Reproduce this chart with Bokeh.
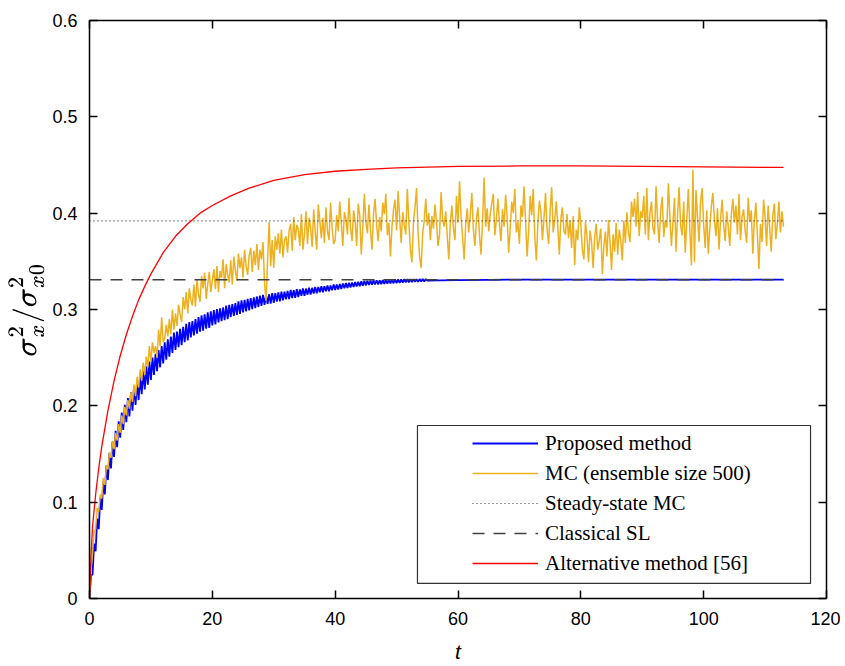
import numpy as np
from bokeh.plotting import figure
from bokeh.models import (Range1d, FixedTicker, LinearAxis, Legend, LegendItem,
                          BoxAnnotation, CustomJSTickFormatter)
from bokeh.embed import file_html
from bokeh.resources import INLINE

# ---------------- data ----------------
x_ticks = [0, 20, 40, 60, 80, 100, 120]
y_ticks = [0, 0.1, 0.2, 0.3, 0.4, 0.5, 0.6]
y_tick_labels = ["0", "0.1", "0.2", "0.3", "0.4", "0.5", "0.6"]

series_names = ["Proposed method", "MC (ensemble size 500)", "Steady-state MC",
                "Classical SL", "Alternative method [56]"]

sample_step = 0.25   # time step of the sampled series
t_end = 113.0

# Proposed method: oscillating part (t = 0 .. 55, every 0.25)
proposed_osc = [
    0.000, 0.024, 0.025, 0.057,
    0.049, 0.083, 0.072, 0.104,
    0.092, 0.122, 0.108, 0.138,
    0.123, 0.151, 0.135, 0.163,
    0.147, 0.174, 0.157, 0.184,
    0.167, 0.193, 0.175, 0.201,
    0.183, 0.208, 0.189, 0.214,
    0.195, 0.220, 0.201, 0.225,
    0.206, 0.231, 0.212, 0.236,
    0.217, 0.241, 0.222, 0.246,
    0.227, 0.250, 0.232, 0.254,
    0.236, 0.258, 0.240, 0.262,
    0.244, 0.266, 0.248, 0.269,
    0.251, 0.272, 0.255, 0.276,
    0.258, 0.277, 0.261, 0.280,
    0.263, 0.282, 0.266, 0.285,
    0.268, 0.287, 0.271, 0.288,
    0.273, 0.290, 0.275, 0.292,
    0.277, 0.294, 0.278, 0.295,
    0.280, 0.297, 0.281, 0.298,
    0.2835, 0.2995, 0.2846, 0.3004,
    0.2867, 0.3012, 0.2879, 0.3021,
    0.2890, 0.3040, 0.2901, 0.3049,
    0.2922, 0.3057, 0.2933, 0.3066,
    0.2944, 0.3085, 0.2955, 0.3094,
    0.2970, 0.3100, 0.2980, 0.3110,
    0.2992, 0.3118, 0.3003, 0.3126,
    0.3015, 0.3135, 0.3026, 0.3143,
    0.3037, 0.3152, 0.3048, 0.3151,
    0.3059, 0.3160, 0.3060, 0.3170,
    0.3070, 0.3169, 0.3082, 0.3177,
    0.3084, 0.3186, 0.3095, 0.3184,
    0.3106, 0.3193, 0.3108, 0.3202,
    0.3119, 0.3201, 0.3120, 0.3210,
    0.3130, 0.3209, 0.3142, 0.3218,
    0.3143, 0.3217, 0.3154, 0.3226,
    0.3155, 0.3225, 0.3166, 0.3234,
    0.3167, 0.3233, 0.3178, 0.3242,
    0.3179, 0.3241, 0.3190, 0.3250,
    0.3190, 0.3250, 0.3201, 0.3259,
    0.3202, 0.3260, 0.3207, 0.3265,
    0.3213, 0.3270, 0.3220, 0.3274,
    0.3224, 0.3278, 0.3229, 0.3281,
    0.3233, 0.3285, 0.3238, 0.3288,
    0.3242, 0.3292, 0.3247, 0.3295,
    0.3251, 0.3299, 0.3255, 0.3300,
    0.3257, 0.3302, 0.3260, 0.3303,
    0.3261, 0.3304, 0.3263, 0.3305,
    0.3266, 0.3307, 0.3268, 0.3309,
    0.3270, 0.3311, 0.3272, 0.3313,
    0.3274, 0.3313, 0.3277, 0.3314,
    0.3279, 0.3315, 0.3281, 0.3315,
    0.3282, 0.3316, 0.3284, 0.3316,
    0.3286, 0.3316, 0.3287, 0.3316,
    0.3289, 0.3316, 0.3290, 0.3316,
    0.3301,
]
# Proposed method: settled part
proposed_tail_t = [57, 60, 65, 70, 80, 90, 100, 113]
proposed_tail_v = [0.3303, 0.3305, 0.3308, 0.3310, 0.3311, 0.3311, 0.3311, 0.3311]

# Monte Carlo (ensemble size 500), t = 0 .. 113, every 0.25
mc_values = [
    0.000, 0.032, 0.048, 0.070,
    0.072, 0.094, 0.090, 0.108,
    0.104, 0.125, 0.118, 0.138,
    0.134, 0.152, 0.146, 0.163,
    0.155, 0.172, 0.164, 0.181,
    0.172, 0.190, 0.181, 0.199,
    0.190, 0.206, 0.197, 0.214,
    0.204, 0.222, 0.210, 0.230,
    0.219, 0.238, 0.226, 0.245,
    0.232, 0.251, 0.240, 0.262,
    0.246, 0.266, 0.255, 0.262,
    0.250, 0.279, 0.262, 0.292,
    0.266, 0.270, 0.284, 0.272,
    0.290, 0.274, 0.300, 0.279,
    0.296, 0.283, 0.305, 0.295,
    0.287, 0.313, 0.300, 0.318,
    0.296, 0.322, 0.310, 0.304,
    0.326, 0.303, 0.331, 0.316,
    0.308, 0.335, 0.322, 0.338,
    0.311, 0.326, 0.339, 0.318,
    0.330, 0.342, 0.321, 0.345,
    0.318, 0.340, 0.333, 0.352,
    0.322, 0.347, 0.336, 0.328,
    0.351, 0.326, 0.355, 0.340,
    0.330, 0.358, 0.343, 0.354,
    0.333, 0.362, 0.345, 0.336,
    0.356, 0.364, 0.339, 0.361,
    0.346, 0.368, 0.341, 0.362,
    0.352, 0.370, 0.327, 0.309,
    0.352, 0.391, 0.345, 0.372,
    0.343, 0.376, 0.362, 0.379,
    0.358, 0.383, 0.354, 0.372,
    0.376, 0.359, 0.382, 0.389,
    0.361, 0.396, 0.372, 0.388,
    0.383, 0.366, 0.399, 0.362,
    0.378, 0.402, 0.368, 0.395,
    0.385, 0.365, 0.404, 0.380,
    0.362, 0.409, 0.392, 0.374,
    0.395, 0.369, 0.406, 0.381,
    0.372, 0.411, 0.386, 0.368,
    0.372, 0.398, 0.381, 0.412,
    0.389, 0.366, 0.401, 0.394,
    0.378, 0.416, 0.385, 0.371,
    0.403, 0.392, 0.366, 0.410,
    0.398, 0.357, 0.384, 0.420,
    0.391, 0.379, 0.409, 0.383,
    0.362, 0.400, 0.415, 0.388,
    0.371, 0.396, 0.381, 0.411,
    0.399, 0.420, 0.377, 0.390,
    0.355, 0.386, 0.404, 0.414,
    0.382, 0.423, 0.395, 0.369,
    0.401, 0.388, 0.378, 0.425,
    0.390, 0.362, 0.349, 0.391,
    0.406, 0.426, 0.380, 0.355,
    0.343, 0.379, 0.392, 0.415,
    0.387, 0.400, 0.372, 0.397,
    0.384, 0.409, 0.391, 0.366,
    0.378, 0.422, 0.394, 0.386,
    0.402, 0.376, 0.352, 0.389,
    0.408, 0.385, 0.372, 0.418,
    0.390, 0.433, 0.395, 0.375,
    0.352, 0.388, 0.405, 0.380,
    0.399, 0.421, 0.383, 0.366,
    0.394, 0.406, 0.377, 0.357,
    0.392, 0.437, 0.386, 0.405,
    0.381, 0.399, 0.410, 0.420,
    0.377, 0.394, 0.415, 0.389,
    0.371, 0.404, 0.386, 0.419,
    0.396, 0.359, 0.384, 0.412,
    0.400, 0.425, 0.380, 0.391,
    0.368, 0.408, 0.396, 0.428,
    0.393, 0.355, 0.381, 0.418,
    0.398, 0.425, 0.376, 0.351,
    0.389, 0.413, 0.401, 0.372,
    0.395, 0.421, 0.383, 0.368,
    0.402, 0.427, 0.380, 0.393,
    0.412, 0.386, 0.357, 0.395,
    0.406, 0.381, 0.378, 0.399,
    0.374, 0.392, 0.364, 0.397,
    0.346, 0.383, 0.372, 0.406,
    0.388, 0.362, 0.352, 0.391,
    0.376, 0.349, 0.382, 0.370,
    0.343, 0.375, 0.389, 0.362,
    0.372, 0.384, 0.337, 0.366,
    0.381, 0.355, 0.393, 0.370,
    0.341, 0.378, 0.360, 0.390,
    0.357, 0.383, 0.372, 0.351,
    0.392, 0.369, 0.401, 0.380,
    0.370, 0.412, 0.396, 0.415,
    0.386, 0.422, 0.376, 0.402,
    0.395, 0.418, 0.378, 0.426,
    0.372, 0.400, 0.412, 0.384,
    0.378, 0.428, 0.391, 0.369,
    0.403, 0.417, 0.375, 0.392,
    0.385, 0.431, 0.396, 0.366,
    0.391, 0.416, 0.360, 0.398,
    0.427, 0.387, 0.377, 0.412,
    0.359, 0.392, 0.425, 0.383,
    0.346, 0.445, 0.349, 0.424,
    0.396, 0.370, 0.412, 0.426,
    0.388, 0.364, 0.403, 0.358,
    0.384, 0.407, 0.421, 0.393,
    0.376, 0.405, 0.362, 0.394,
    0.414, 0.388, 0.371, 0.402,
    0.386, 0.366, 0.398, 0.415,
    0.390, 0.408, 0.378, 0.420,
    0.372, 0.396, 0.404, 0.382,
    0.369, 0.416, 0.391, 0.403,
    0.358, 0.392, 0.411, 0.377,
    0.342, 0.389, 0.370, 0.414,
    0.396, 0.366, 0.408, 0.385,
    0.360, 0.397, 0.410, 0.373,
    0.389, 0.412, 0.380, 0.402,
    0.386,
]

steady_state_mc = 0.392
classical_sl = 0.331

# Alternative method [56]
alt_t = [0, 0.25, 0.5, 1, 1.5, 2, 3, 4, 5, 6, 7, 8, 9, 10, 12, 14, 16, 18, 20,
         23, 26, 30, 35, 40, 45, 50, 60, 70, 80, 90, 100, 113]
alt_v = [0, 0.045, 0.075, 0.108, 0.135, 0.158, 0.195, 0.226, 0.252, 0.274, 0.293,
         0.310, 0.324, 0.337, 0.359, 0.376, 0.389, 0.400, 0.408, 0.418, 0.426,
         0.434, 0.440, 0.4435, 0.4455, 0.447, 0.4485, 0.449, 0.449, 0.4485, 0.448,
         0.4475]

# ---------------- derived ----------------
prop_t = list(np.arange(len(proposed_osc)) * sample_step) + proposed_tail_t
prop_v = proposed_osc + proposed_tail_v
mc_t = np.arange(len(mc_values)) * sample_step

# ---------------- figure ----------------
p = figure(width=840, height=666, x_range=Range1d(0, 120), y_range=Range1d(0, 0.6),
           output_backend="svg", toolbar_location=None,
           min_border_left=89, min_border_right=14, min_border_top=20,
           min_border_bottom=68)
p.xgrid.visible = False
p.ygrid.visible = False
p.outline_line_color = None
p.background_fill_color = "white"
p.border_fill_color = "white"

BLUE = "#0000ff"
ORANGE = "#EDB120"
RED = "#ff0000"

r_prop = p.line(prop_t, prop_v, line_color=BLUE, line_width=1.8)
r_mc = p.line(mc_t, mc_values, line_color=ORANGE, line_width=1.5)
r_ss = p.line([0, t_end], [steady_state_mc, steady_state_mc], line_color="#303030",
              line_width=1.2, line_dash="1 3")
r_cl = p.line([0, t_end], [classical_sl, classical_sl], line_color="#404040",
              line_width=1.5, line_dash="12 9")
r_alt = p.line(alt_t, alt_v, line_color=RED, line_width=1.3)

# axes
xa = p.xaxis[0]
ya = p.yaxis[0]
xa.ticker = FixedTicker(ticks=x_ticks)
ya.ticker = FixedTicker(ticks=y_ticks)
ya.major_label_overrides = dict(zip(y_ticks, y_tick_labels))
xa.axis_label = "t"
xa.axis_label_text_font_style = "italic"
xa.axis_label_text_font = "Liberation Sans"
xa.axis_label_text_font_size = "21px"
xa.axis_label_standoff = 12
ya.axis_label = r"$$\sigma_x^2/\sigma_{x0}^2$$"
ya.axis_label_text_font_size = "25px"
ya.axis_label_standoff = 5

blank = CustomJSTickFormatter(code="return ''")
ra = LinearAxis(ticker=FixedTicker(ticks=y_ticks), formatter=blank)
ta = LinearAxis(ticker=FixedTicker(ticks=x_ticks), formatter=blank)
p.add_layout(ra, "right")
p.add_layout(ta, "above")

for ax in (xa, ya, ra, ta):
    ax.major_tick_in = 8
    ax.major_tick_out = 0
    ax.minor_tick_in = 0
    ax.minor_tick_out = 0
    ax.axis_line_width = 1.5
    ax.axis_line_color = "black"
    ax.major_tick_line_width = 1.5
    ax.major_tick_line_color = "black"
    ax.major_label_text_font = "Liberation Sans"
    ax.major_label_text_font_size = "18px"
    ax.major_label_text_color = "black"
    ax.axis_label_text_color = "black"
xa.major_label_standoff = 13
ya.major_label_standoff = 12
ra.major_label_standoff = 0
ta.major_label_standoff = 0
ra.major_label_text_font_size = "0px"
ta.major_label_text_font_size = "0px"

# legend frame
legend_box = BoxAnnotation(left=53.4, right=117.4, bottom=0.0156, top=0.1796,
                           fill_color="white", fill_alpha=1.0,
                           line_color="#333333", line_width=1.2, line_alpha=1.0)
p.add_layout(legend_box)

legend = Legend(items=[LegendItem(label=n, renderers=[r]) for n, r in
                       zip(series_names, [r_prop, r_mc, r_ss, r_cl, r_alt])],
                location=(383, 20), padding=0, margin=0, spacing=0,
                glyph_width=66, glyph_height=30, label_height=30, label_standoff=7,
                label_text_font="Liberation Serif", label_text_font_size="21px",
                label_text_color="black",
                border_line_alpha=0, background_fill_alpha=0)
p.add_layout(legend)

open("out.html", "w").write(file_html(p, INLINE))
